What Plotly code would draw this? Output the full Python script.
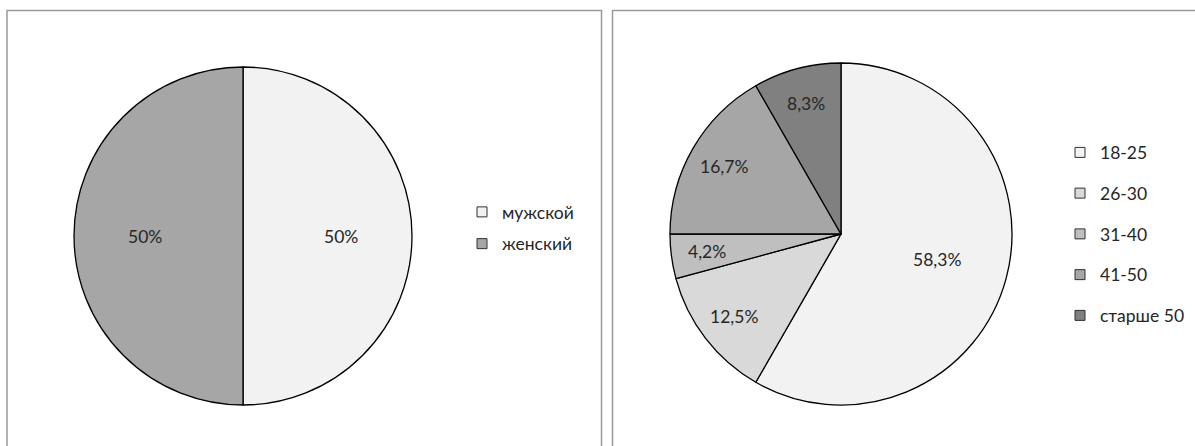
import math
import plotly.graph_objects as go

W, H = 1195, 446

# Data
sex_labels = ["мужской", "женский"]
sex_values = [50, 50]
sex_text = ["50%", "50%"]
sex_colors = ["#f2f2f2", "#a6a6a6"]

age_labels = ["18-25", "26-30", "31-40", "41-50", "старше 50"]
age_values = [58.3, 12.5, 4.2, 16.7, 8.3]
age_text = ["58,3%", "12,5%", "4,2%", "16,7%", "8,3%"]
age_colors = ["#f2f2f2", "#d9d9d9", "#bfbfbf", "#a6a6a6", "#808080"]

FONT = "Lato"
TXT = "#262626"
FS = 17.5

# pie geometry (pixels): centre x, centre y, radius
PIE1 = (243, 236, 169)
PIE2 = (841, 234, 171)


def px_dom(cx, cy, r):
    return dict(x=[(cx - r) / W, (cx + r) / W], y=[1 - (cy + r) / H, 1 - (cy - r) / H])


def label_annotations(values, texts, geom):
    """Place labels Excel-like: at mid-angle of each slice (clockwise from 12 o'clock)."""
    cx, cy, r = geom
    total = float(sum(values))
    anns = []
    cum = 0.0
    for v, t in zip(values, texts):
        frac = v / total
        mid = (cum + frac / 2) * 2 * math.pi
        cum += frac
        k = 0.58 if frac > 0.4 else 0.79
        x = cx + k * r * math.sin(mid)
        y = cy - k * r * math.cos(mid)
        anns.append(dict(x=x / W, y=1 - y / H, xref="paper", yref="paper", text=t,
                         showarrow=False, xanchor="center", yanchor="middle",
                         font=dict(family=FONT, size=FS, color=TXT)))
    return anns


fig = go.Figure()

fig.add_trace(go.Pie(
    labels=sex_labels, values=sex_values, textinfo="none",
    sort=False, direction="clockwise", rotation=0,
    marker=dict(colors=sex_colors, line=dict(color="#000000", width=1.3)),
    domain=px_dom(*PIE1), showlegend=False, hoverinfo="label+percent",
))

fig.add_trace(go.Pie(
    labels=age_labels, values=age_values, textinfo="none",
    sort=False, direction="clockwise", rotation=0,
    marker=dict(colors=age_colors, line=dict(color="#000000", width=1.3)),
    domain=px_dom(*PIE2), showlegend=False, hoverinfo="label+percent",
))

# Legend entries (dummy traces so that item spacing can be controlled)
for i, (lab, col) in enumerate(zip(sex_labels, sex_colors)):
    fig.add_trace(go.Scatter(
        x=[None], y=[None], mode="markers", name=lab, legend="legend",
        legendgroup="s%d" % i,
        marker=dict(symbol="square", size=10, color=col, line=dict(color="#303030", width=1)),
    ))
for i, (lab, col) in enumerate(zip(age_labels, age_colors)):
    fig.add_trace(go.Scatter(
        x=[None], y=[None], mode="markers", name=lab, legend="legend2",
        legendgroup="a%d" % i,
        marker=dict(symbol="square", size=10, color=col, line=dict(color="#303030", width=1)),
    ))

border = dict(color="#9a9a9a", width=1.5)
fig.update_layout(
    width=W, height=H,
    margin=dict(l=0, r=0, t=0, b=0),
    paper_bgcolor="white", plot_bgcolor="white",
    xaxis=dict(visible=False), yaxis=dict(visible=False),
    font=dict(family=FONT, size=FS, color=TXT),
    legend=dict(x=462 / W, y=1 - 228 / H, xanchor="left", yanchor="middle",
                tracegroupgap=6, font=dict(family=FONT, size=FS, color=TXT),
                bgcolor="rgba(0,0,0,0)"),
    legend2=dict(x=1060 / W, y=1 - 234 / H, xanchor="left", yanchor="middle",
                 tracegroupgap=15, font=dict(family=FONT, size=FS, color=TXT),
                 bgcolor="rgba(0,0,0,0)"),
    annotations=label_annotations(sex_values, sex_text, PIE1)
    + label_annotations(age_values, age_text, PIE2),
    shapes=[
        dict(type="rect", xref="paper", yref="paper",
             x0=7 / W, x1=601.5 / W, y0=-0.05, y1=1 - 10.5 / H, line=border),
        dict(type="rect", xref="paper", yref="paper",
             x0=612.5 / W, x1=1200 / W, y0=-0.05, y1=1 - 10.5 / H, line=border),
    ],
)

fig.write_html("out.html")
